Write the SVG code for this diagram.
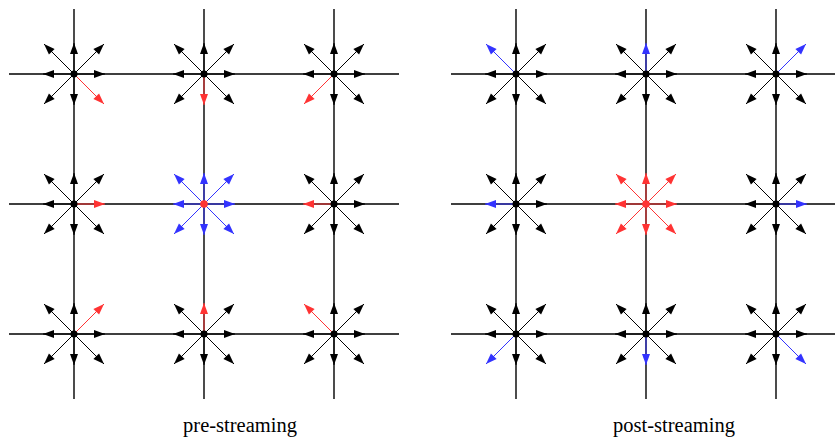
<svg xmlns="http://www.w3.org/2000/svg" width="835" height="439" viewBox="0 0 835 439">
<style>
.g{stroke:#000;stroke-width:1.4;fill:none}
.k{stroke:#000;stroke-width:1;marker-end:url(#hk)}
.r{stroke:#f33;stroke-width:1;marker-end:url(#hr)}
.b{stroke:#33f;stroke-width:1;marker-end:url(#hb)}
.d{fill:#000}
.dr{fill:#f33}
.lbl{font-family:"Liberation Serif","Times New Roman",serif;font-size:20.5px;fill:#000;text-anchor:middle}
</style>
<defs>
<marker id="hk" markerUnits="userSpaceOnUse" markerWidth="12" markerHeight="10" refX="11" refY="4" orient="auto" overflow="visible"><path d="M0,0 L11,4 L0,8 Z" fill="#000"/></marker>
<marker id="hr" markerUnits="userSpaceOnUse" markerWidth="12" markerHeight="10" refX="11" refY="4" orient="auto" overflow="visible"><path d="M0,0 L11,4 L0,8 Z" fill="#f33"/></marker>
<marker id="hb" markerUnits="userSpaceOnUse" markerWidth="12" markerHeight="10" refX="11" refY="4" orient="auto" overflow="visible"><path d="M0,0 L11,4 L0,8 Z" fill="#33f"/></marker>
</defs>
<rect width="835" height="439" fill="#fff"/>
<g id="connectors">
<path class="g" d="M9,74H399M9,204H399M9,334H399M74,9V399M204,9V399M334,9V399"/>
<path class="g" d="M451,74H841M451,204H841M451,334H841M516,9V399M646,9V399M776,9V399"/>
</g>
<!-- pre-streaming -->
<g id="pre-00" transform="translate(74,74)">
<line class="k" x1="0" y1="0" x2="31" y2="0"/><line class="k" x1="0" y1="0" x2="0" y2="-31"/><line class="k" x1="0" y1="0" x2="-31" y2="0"/><line class="k" x1="0" y1="0" x2="0" y2="31"/>
<line class="k" x1="0" y1="0" x2="30" y2="-30"/><line class="k" x1="0" y1="0" x2="-30" y2="-30"/><line class="k" x1="0" y1="0" x2="-30" y2="30"/>
<line class="r" x1="0" y1="0" x2="30" y2="30"/>
<circle class="d" r="3.5"/>
</g>
<g id="pre-10" transform="translate(204,74)">
<line class="k" x1="0" y1="0" x2="31" y2="0"/><line class="k" x1="0" y1="0" x2="0" y2="-31"/><line class="k" x1="0" y1="0" x2="-31" y2="0"/>
<line class="k" x1="0" y1="0" x2="30" y2="-30"/><line class="k" x1="0" y1="0" x2="-30" y2="-30"/><line class="k" x1="0" y1="0" x2="-30" y2="30"/><line class="k" x1="0" y1="0" x2="30" y2="30"/>
<line class="r" x1="0" y1="0" x2="0" y2="31"/>
<circle class="d" r="3.5"/>
</g>
<g id="pre-20" transform="translate(334,74)">
<line class="k" x1="0" y1="0" x2="31" y2="0"/><line class="k" x1="0" y1="0" x2="0" y2="-31"/><line class="k" x1="0" y1="0" x2="-31" y2="0"/><line class="k" x1="0" y1="0" x2="0" y2="31"/>
<line class="k" x1="0" y1="0" x2="30" y2="-30"/><line class="k" x1="0" y1="0" x2="-30" y2="-30"/><line class="k" x1="0" y1="0" x2="30" y2="30"/>
<line class="r" x1="0" y1="0" x2="-30" y2="30"/>
<circle class="d" r="3.5"/>
</g>
<g id="pre-01" transform="translate(74,204)">
<line class="k" x1="0" y1="0" x2="0" y2="-31"/><line class="k" x1="0" y1="0" x2="-31" y2="0"/><line class="k" x1="0" y1="0" x2="0" y2="31"/>
<line class="k" x1="0" y1="0" x2="30" y2="-30"/><line class="k" x1="0" y1="0" x2="-30" y2="-30"/><line class="k" x1="0" y1="0" x2="-30" y2="30"/><line class="k" x1="0" y1="0" x2="30" y2="30"/>
<line class="r" x1="0" y1="0" x2="31" y2="0"/>
<circle class="d" r="3.5"/>
</g>
<g id="pre-11" transform="translate(204,204)">
<line class="b" x1="0" y1="0" x2="31" y2="0"/><line class="b" x1="0" y1="0" x2="0" y2="-31"/><line class="b" x1="0" y1="0" x2="-31" y2="0"/><line class="b" x1="0" y1="0" x2="0" y2="31"/>
<line class="b" x1="0" y1="0" x2="30" y2="-30"/><line class="b" x1="0" y1="0" x2="-30" y2="-30"/><line class="b" x1="0" y1="0" x2="-30" y2="30"/><line class="b" x1="0" y1="0" x2="30" y2="30"/>
<circle class="dr" r="3.8"/>
</g>
<g id="pre-21" transform="translate(334,204)">
<line class="k" x1="0" y1="0" x2="31" y2="0"/><line class="k" x1="0" y1="0" x2="0" y2="-31"/><line class="k" x1="0" y1="0" x2="0" y2="31"/>
<line class="k" x1="0" y1="0" x2="30" y2="-30"/><line class="k" x1="0" y1="0" x2="-30" y2="-30"/><line class="k" x1="0" y1="0" x2="-30" y2="30"/><line class="k" x1="0" y1="0" x2="30" y2="30"/>
<line class="r" x1="0" y1="0" x2="-31" y2="0"/>
<circle class="d" r="3.5"/>
</g>
<g id="pre-02" transform="translate(74,334)">
<line class="k" x1="0" y1="0" x2="31" y2="0"/><line class="k" x1="0" y1="0" x2="0" y2="-31"/><line class="k" x1="0" y1="0" x2="-31" y2="0"/><line class="k" x1="0" y1="0" x2="0" y2="31"/>
<line class="k" x1="0" y1="0" x2="-30" y2="-30"/><line class="k" x1="0" y1="0" x2="-30" y2="30"/><line class="k" x1="0" y1="0" x2="30" y2="30"/>
<line class="r" x1="0" y1="0" x2="30" y2="-30"/>
<circle class="d" r="3.5"/>
</g>
<g id="pre-12" transform="translate(204,334)">
<line class="k" x1="0" y1="0" x2="31" y2="0"/><line class="k" x1="0" y1="0" x2="-31" y2="0"/><line class="k" x1="0" y1="0" x2="0" y2="31"/>
<line class="k" x1="0" y1="0" x2="30" y2="-30"/><line class="k" x1="0" y1="0" x2="-30" y2="-30"/><line class="k" x1="0" y1="0" x2="-30" y2="30"/><line class="k" x1="0" y1="0" x2="30" y2="30"/>
<line class="r" x1="0" y1="0" x2="0" y2="-31"/>
<circle class="d" r="3.5"/>
</g>
<g id="pre-22" transform="translate(334,334)">
<line class="k" x1="0" y1="0" x2="31" y2="0"/><line class="k" x1="0" y1="0" x2="0" y2="-31"/><line class="k" x1="0" y1="0" x2="-31" y2="0"/><line class="k" x1="0" y1="0" x2="0" y2="31"/>
<line class="k" x1="0" y1="0" x2="30" y2="-30"/><line class="k" x1="0" y1="0" x2="-30" y2="30"/><line class="k" x1="0" y1="0" x2="30" y2="30"/>
<line class="r" x1="0" y1="0" x2="-30" y2="-30"/>
<circle class="d" r="3.5"/>
</g>
<!-- post-streaming -->
<g id="post-00" transform="translate(516,74)">
<line class="k" x1="0" y1="0" x2="31" y2="0"/><line class="k" x1="0" y1="0" x2="0" y2="-31"/><line class="k" x1="0" y1="0" x2="-31" y2="0"/><line class="k" x1="0" y1="0" x2="0" y2="31"/>
<line class="k" x1="0" y1="0" x2="30" y2="-30"/><line class="k" x1="0" y1="0" x2="-30" y2="30"/><line class="k" x1="0" y1="0" x2="30" y2="30"/>
<line class="b" x1="0" y1="0" x2="-30" y2="-30"/>
<circle class="d" r="3.5"/>
</g>
<g id="post-10" transform="translate(646,74)">
<line class="k" x1="0" y1="0" x2="31" y2="0"/><line class="k" x1="0" y1="0" x2="-31" y2="0"/><line class="k" x1="0" y1="0" x2="0" y2="31"/>
<line class="k" x1="0" y1="0" x2="30" y2="-30"/><line class="k" x1="0" y1="0" x2="-30" y2="-30"/><line class="k" x1="0" y1="0" x2="-30" y2="30"/><line class="k" x1="0" y1="0" x2="30" y2="30"/>
<line class="b" x1="0" y1="0" x2="0" y2="-31"/>
<circle class="d" r="3.5"/>
</g>
<g id="post-20" transform="translate(776,74)">
<line class="k" x1="0" y1="0" x2="31" y2="0"/><line class="k" x1="0" y1="0" x2="0" y2="-31"/><line class="k" x1="0" y1="0" x2="-31" y2="0"/><line class="k" x1="0" y1="0" x2="0" y2="31"/>
<line class="k" x1="0" y1="0" x2="-30" y2="-30"/><line class="k" x1="0" y1="0" x2="-30" y2="30"/><line class="k" x1="0" y1="0" x2="30" y2="30"/>
<line class="b" x1="0" y1="0" x2="30" y2="-30"/>
<circle class="d" r="3.5"/>
</g>
<g id="post-01" transform="translate(516,204)">
<line class="k" x1="0" y1="0" x2="31" y2="0"/><line class="k" x1="0" y1="0" x2="0" y2="-31"/><line class="k" x1="0" y1="0" x2="0" y2="31"/>
<line class="k" x1="0" y1="0" x2="30" y2="-30"/><line class="k" x1="0" y1="0" x2="-30" y2="-30"/><line class="k" x1="0" y1="0" x2="-30" y2="30"/><line class="k" x1="0" y1="0" x2="30" y2="30"/>
<line class="b" x1="0" y1="0" x2="-31" y2="0"/>
<circle class="d" r="3.5"/>
</g>
<g id="post-11" transform="translate(646,204)">
<line class="r" x1="0" y1="0" x2="31" y2="0"/><line class="r" x1="0" y1="0" x2="0" y2="-31"/><line class="r" x1="0" y1="0" x2="-31" y2="0"/><line class="r" x1="0" y1="0" x2="0" y2="31"/>
<line class="r" x1="0" y1="0" x2="30" y2="-30"/><line class="r" x1="0" y1="0" x2="-30" y2="-30"/><line class="r" x1="0" y1="0" x2="-30" y2="30"/><line class="r" x1="0" y1="0" x2="30" y2="30"/>
<circle class="dr" r="3.8"/>
</g>
<g id="post-21" transform="translate(776,204)">
<line class="k" x1="0" y1="0" x2="0" y2="-31"/><line class="k" x1="0" y1="0" x2="-31" y2="0"/><line class="k" x1="0" y1="0" x2="0" y2="31"/>
<line class="k" x1="0" y1="0" x2="30" y2="-30"/><line class="k" x1="0" y1="0" x2="-30" y2="-30"/><line class="k" x1="0" y1="0" x2="-30" y2="30"/><line class="k" x1="0" y1="0" x2="30" y2="30"/>
<line class="b" x1="0" y1="0" x2="31" y2="0"/>
<circle class="d" r="3.5"/>
</g>
<g id="post-02" transform="translate(516,334)">
<line class="k" x1="0" y1="0" x2="31" y2="0"/><line class="k" x1="0" y1="0" x2="0" y2="-31"/><line class="k" x1="0" y1="0" x2="-31" y2="0"/><line class="k" x1="0" y1="0" x2="0" y2="31"/>
<line class="k" x1="0" y1="0" x2="30" y2="-30"/><line class="k" x1="0" y1="0" x2="-30" y2="-30"/><line class="k" x1="0" y1="0" x2="30" y2="30"/>
<line class="b" x1="0" y1="0" x2="-30" y2="30"/>
<circle class="d" r="3.5"/>
</g>
<g id="post-12" transform="translate(646,334)">
<line class="k" x1="0" y1="0" x2="31" y2="0"/><line class="k" x1="0" y1="0" x2="0" y2="-31"/><line class="k" x1="0" y1="0" x2="-31" y2="0"/>
<line class="k" x1="0" y1="0" x2="30" y2="-30"/><line class="k" x1="0" y1="0" x2="-30" y2="-30"/><line class="k" x1="0" y1="0" x2="-30" y2="30"/><line class="k" x1="0" y1="0" x2="30" y2="30"/>
<line class="b" x1="0" y1="0" x2="0" y2="31"/>
<circle class="d" r="3.5"/>
</g>
<g id="post-22" transform="translate(776,334)">
<line class="k" x1="0" y1="0" x2="31" y2="0"/><line class="k" x1="0" y1="0" x2="0" y2="-31"/><line class="k" x1="0" y1="0" x2="-31" y2="0"/><line class="k" x1="0" y1="0" x2="0" y2="31"/>
<line class="k" x1="0" y1="0" x2="30" y2="-30"/><line class="k" x1="0" y1="0" x2="-30" y2="-30"/><line class="k" x1="0" y1="0" x2="-30" y2="30"/>
<line class="b" x1="0" y1="0" x2="30" y2="30"/>
<circle class="d" r="3.5"/>
</g>
<text class="lbl" x="240" y="432">pre-streaming</text>
<text class="lbl" x="674" y="432">post-streaming</text>
</svg>
